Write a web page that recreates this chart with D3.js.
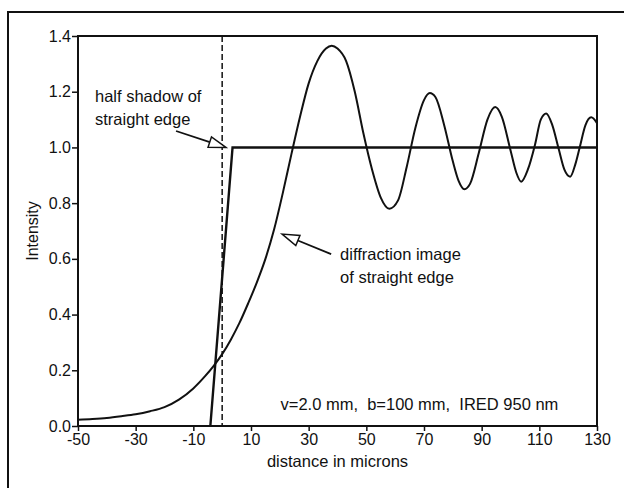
<!DOCTYPE html>
<html>
<head>
<meta charset="utf-8">
<script src="https://cdn.jsdelivr.net/npm/d3@7"></script>
<style>
  body { margin: 0; background: #fff; }
  text { font-family: "Liberation Sans", Arial, sans-serif; fill: #111; }
</style>
</head>
<body>
<div id="chart"></div>
<script>
// values
const xTicks = [-50, -30, -10, 10, 30, 50, 70, 90, 110, 130];
const yTicks = [0.0, 0.2, 0.4, 0.6, 0.8, 1.0, 1.2, 1.4];

// diffraction image of straight edge (distance in microns, intensity)
const diffX = [-50, -45, -40, -35, -30, -25, -20, -15, -10, -6, -3, 0, 3, 6, 9, 12, 15, 18, 21, 24,
    27, 30, 33, 36, 38, 40, 43, 46, 49, 52, 55, 58, 61, 64, 67, 70, 72, 74, 77, 80,
    82, 84, 86, 89, 92, 94.7, 97, 100, 102, 103.7, 106, 108.5, 110.5, 112.4, 114.5, 116.7,
    118.7, 120.7, 122.5, 124, 126, 128, 130];
const diffY = [0.022, 0.025, 0.029, 0.035, 0.042, 0.053, 0.068, 0.095, 0.135, 0.178, 0.215, 0.258, 0.31, 0.37, 0.44, 0.515, 0.6, 0.705, 0.835, 0.975,
    1.11, 1.23, 1.31, 1.355, 1.365, 1.355, 1.31, 1.2, 1.05, 0.92, 0.82, 0.78, 0.81, 0.93, 1.07, 1.17, 1.195, 1.18, 1.08, 0.95,
    0.88, 0.85, 0.87, 0.98, 1.1, 1.145, 1.11, 0.99, 0.91, 0.877, 0.92, 1.01, 1.1, 1.122, 1.08, 0.995,
    0.92, 0.895, 0.94, 1.0, 1.08, 1.108, 1.087];

// half shadow of straight edge
const shadowX = [-4.1, 3.6, 130];
const shadowY = [0, 1, 1];

const edgeX = 0;   // dashed line: geometric edge
const paramsText = 'v=2.0 mm,  b=100 mm,  IRED 950 nm';

const width = 624, height = 488;
const margin = { top: 36, right: 27, bottom: 62, left: 78 };

const svg = d3.select('#chart')
    .append('svg')
    .attr('width', width)
    .attr('height', height);

// outer frame of the figure
svg.append('rect')
    .attr('x', 8).attr('y', 12)
    .attr('width', 640).attr('height', 500)
    .attr('fill', 'none')
    .attr('stroke', '#111')
    .attr('stroke-width', 2);

const x = d3.scaleLinear()
    .domain([-50, 130])
    .range([margin.left, width - margin.right]);

const y = d3.scaleLinear()
    .domain([0, 1.4])
    .range([height - margin.bottom, margin.top]);

// axes
svg.append('g')
    .attr('transform', `translate(0, ${y(0)})`)
    .call(d3.axisBottom(x).tickValues(xTicks).tickSize(5).tickPadding(3).tickFormat(d => String(d)))
    .call(g => g.select('.domain').remove())
    .call(g => g.selectAll('line').attr('stroke', '#111').attr('stroke-width', 1.5))
    .call(g => g.selectAll('text').attr('font-size', 16).attr('font-family', null).attr('fill', '#111'));

svg.append('g')
    .attr('transform', `translate(${x(-50)}, 0)`)
    .call(d3.axisLeft(y).tickValues(yTicks).tickSize(6).tickPadding(1).tickFormat(d3.format('.1f')))
    .call(g => g.select('.domain').remove())
    .call(g => g.selectAll('line').attr('stroke', '#111').attr('stroke-width', 1.5))
    .call(g => g.selectAll('text').attr('font-size', 16).attr('font-family', null).attr('fill', '#111'));

// plot frame
svg.append('rect')
    .attr('x', x(-50)).attr('y', y(1.4))
    .attr('width', x(130) - x(-50))
    .attr('height', y(0) - y(1.4))
    .attr('fill', 'none')
    .attr('stroke', '#111')
    .attr('stroke-width', 2);

// axis titles
svg.append('text')
    .attr('x', (x(-50) + x(130)) / 2)
    .attr('y', 467)
    .attr('text-anchor', 'middle')
    .attr('font-size', 16.5)
    .text('distance in microns');

svg.append('text')
    .attr('transform', `translate(38, ${(y(0) + y(1.4)) / 2}) rotate(-90)`)
    .attr('text-anchor', 'middle')
    .attr('font-size', 16)
    .text('Intensity');

// dashed edge line
svg.append('line')
    .attr('x1', x(edgeX)).attr('x2', x(edgeX))
    .attr('y1', y(1.4)).attr('y2', y(0))
    .attr('stroke', '#111')
    .attr('stroke-width', 1.5)
    .attr('stroke-dasharray', '6,3');

const line = d3.line()
    .x(d => x(d[0]))
    .y(d => y(d[1]));

svg.append('path')
    .datum(shadowX.map((v, i) => [v, shadowY[i]]))
    .attr('d', line)
    .attr('fill', 'none')
    .attr('stroke', '#111')
    .attr('stroke-width', 2.4);

svg.append('path')
    .datum(diffX.map((v, i) => [v, diffY[i]]))
    .attr('d', line.curve(d3.curveMonotoneX))
    .attr('fill', 'none')
    .attr('stroke', '#111')
    .attr('stroke-width', 2);

// annotation arrows with open heads
function arrow(x0, y0, x1, y1) {
    const px0 = x(x0), py0 = y(y0), px1 = x(x1), py1 = y(y1);
    const a = Math.atan2(py1 - py0, px1 - px0);
    const len = 17, hw = 5.5;
    const bx = px1 - len * Math.cos(a), by = py1 - len * Math.sin(a);
    svg.append('line')
        .attr('x1', px0).attr('y1', py0)
        .attr('x2', bx).attr('y2', by)
        .attr('stroke', '#111').attr('stroke-width', 1.8);
    const pts = [
        [px1, py1],
        [bx + hw * Math.sin(a), by - hw * Math.cos(a)],
        [bx - hw * Math.sin(a), by + hw * Math.cos(a)]
    ];
    svg.append('polygon')
        .attr('points', pts.map(p => p.join(',')).join(' '))
        .attr('fill', '#fff')
        .attr('stroke', '#111')
        .attr('stroke-width', 1.5);
}

arrow(-16, 1.059, 1.3, 1.0);
arrow(37.8, 0.617, 20.8, 0.689);

function label(lines, lx, ly, anchor) {
    lines.forEach((t, i) => {
        svg.append('text')
            .attr('x', x(lx))
            .attr('y', y(ly) + i * 23)
            .attr('text-anchor', anchor || 'start')
            .attr('font-size', 16.5)
            .style('white-space', 'pre')
            .text(t);
    });
}

label(['half shadow of', 'straight edge'], -44.1, 1.163);
label(['diffraction image', 'of straight edge'], 40.9, 0.596);
label([paramsText], 116.6, 0.057, 'end');
</script>
</body>
</html>
